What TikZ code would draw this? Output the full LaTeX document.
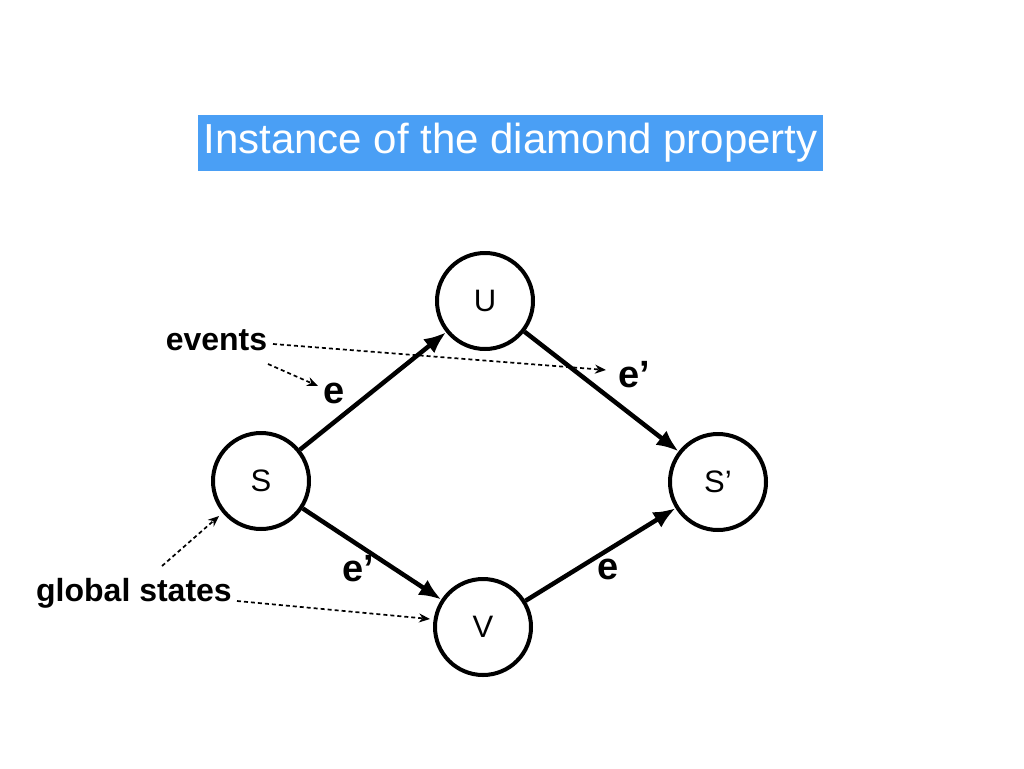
\documentclass[tikz,border=0pt]{standalone}
\usepackage{fontspec}
\setmainfont{Liberation Sans}
\usetikzlibrary{arrows.meta}
\definecolor{titleblue}{HTML}{4A9FF5}
\begin{document}
\begin{tikzpicture}[x=1pt,y=-1pt,
  state/.style={circle,draw,line width=4pt,minimum size=96pt,inner sep=0pt,font=\fontsize{31}{33}\selectfont},
  trans/.style={line width=4.5pt,-{Latex[length=22pt,width=18pt]}},
  evlabel/.style={font=\fontsize{38}{40}\selectfont\bfseries},
  note/.style={font=\fontsize{32}{34}\selectfont\bfseries},
  pointer/.style={line width=1.7pt,dash pattern=on 4pt off 3pt,-{Stealth[length=11pt,width=9pt]}}]
\useasboundingbox (0,0) rectangle (1024,768);
\node[fill=titleblue,text=white,minimum width=625pt,minimum height=56pt,inner sep=0pt,font=\fontsize{42}{44}\selectfont] (title) at (510.5,143) {\raisebox{-3pt}{Instance of the diamond property}};
\node[state] (U) at (485,301) {U};
\node[state] (S) at (261,481) {S};
\node[state] (Sp) at (718,482) {S’};
\node[state] (V) at (483,627) {V};
\draw[trans] (S) -- (U);
\draw[trans] (U) -- (Sp);
\draw[trans] (S) -- (V);
\draw[trans] (V) -- (Sp);
\node[evlabel] (e1) at (334,393) {e};
\node[evlabel] (e2) at (634,375) {e’};
\node[evlabel] (e3) at (358,569) {e’};
\node[evlabel] (e4) at (608,569) {e};
\node[note] (ev) at (216.5,340) {events};
\node[note] (gs) at (134,593) {global states};
\coordinate (evA) at (273,344);
\coordinate (evB) at (268,364);
\coordinate (gsA) at (162,566);
\coordinate (gsB) at (237,601);
\draw[pointer] (evA) -- (606,370);
\draw[pointer] (evB) -- (318,386);
\draw[pointer] (gsA) -- (219,516);
\draw[pointer] (gsB) -- (430,619);
\end{tikzpicture}
\end{document}
